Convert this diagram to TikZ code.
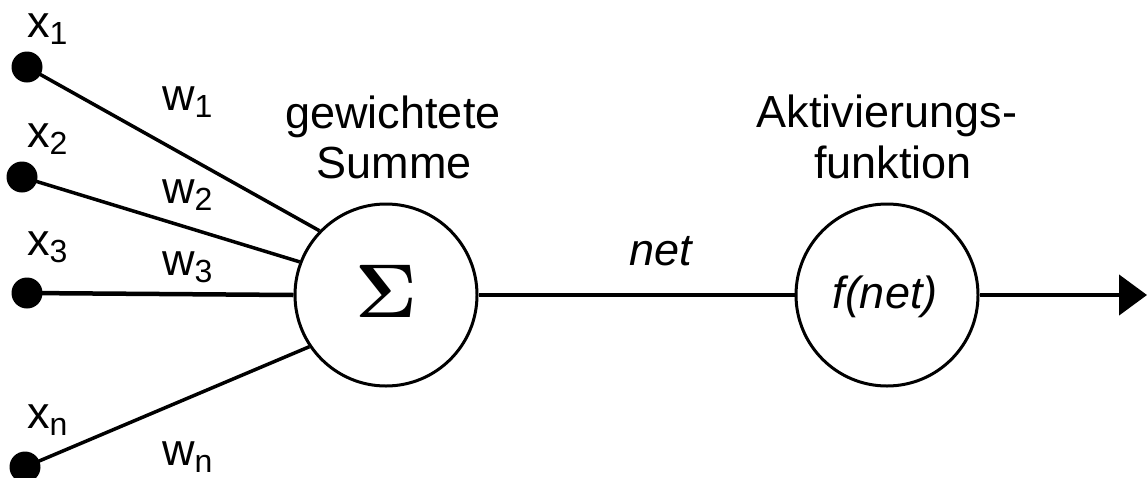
\documentclass[tikz,border=0pt]{standalone}
\usepackage{fontspec}
\setmainfont{Liberation Sans}
\newfontfamily\sigfont{Latin Modern Roman}
\usetikzlibrary{arrows.meta}
\newcommand\lowsub[1]{\raisebox{-7pt}{\fontsize{32}{32}\selectfont #1}}
\begin{document}
\begin{tikzpicture}[x=1pt,y=-1pt,
  lab/.style={inner sep=0pt,font=\fontsize{45}{50}\selectfont},
  dot/.style={circle,fill=black,inner sep=0pt,minimum size=31pt},
  unit/.style={circle,draw=black,line width=3pt,minimum size=182pt,inner sep=0pt},
  inline/.style={line width=3.5pt},
  mainline/.style={line width=4.5pt}]
\useasboundingbox (0,0) rectangle (1147,477);
% units
\node[unit] (S) at (386,295) {};
\node[unit] (F) at (887,295) {};
\node[inner sep=0pt,anchor=base,font=\sigfont\bfseries\fontsize{76}{76}\selectfont] (sig) at (386,317) {Σ};
\node[lab,anchor=base] (fnet) at (885,308) {\itshape f(net)};
% inputs
\node[dot] (x1) at (27,67) {};
\node[dot] (x2) at (22,177) {};
\node[dot] (x3) at (27,293) {};
\node[dot] (xn) at (25,467) {};
\draw[inline] (x1.center) -- (S.136);
\draw[inline] (x2.center) -- (S.159);
\draw[mainline] (x3.center) -- (S.west);
\draw[inline] (xn.center) -- (S.214);
% input labels
\node[lab,anchor=base west] (lx1) at (27,37) {x\lowsub{1}};
\node[lab,anchor=base west] (lx2) at (27,147) {x\lowsub{2}};
\node[lab,anchor=base west] (lx3) at (27,255) {x\lowsub{3}};
\node[lab,anchor=base west] (lxn) at (27,428) {x\lowsub{n}};
\node[lab,anchor=base west] (lw1) at (162,110) {w\lowsub{1}};
\node[lab,anchor=base west] (lw2) at (162,203) {w\lowsub{2}};
\node[lab,anchor=base west] (lw3) at (162,275) {w\lowsub{3}};
\node[lab,anchor=base west] (lwn) at (162,465) {w\lowsub{n}};
% titles
\node[lab,anchor=base] (t1) at (393,128) {gewichtete};
\node[lab,anchor=base] (t2) at (394,178) {Summe};
\node[lab,anchor=base] (t3) at (887,127) {Aktivierungs-};
\node[lab,anchor=base] (t4) at (893,178) {funktion};
\node[lab,anchor=base] (net) at (661,265) {\itshape net};
% connectors
\coordinate (out) at (1147,295);
\draw[mainline] (S.east) -- (F.west);
\draw[mainline,-{Triangle[length=28pt,width=40pt]}] (F.east) -- (out);
\end{tikzpicture}
\end{document}
